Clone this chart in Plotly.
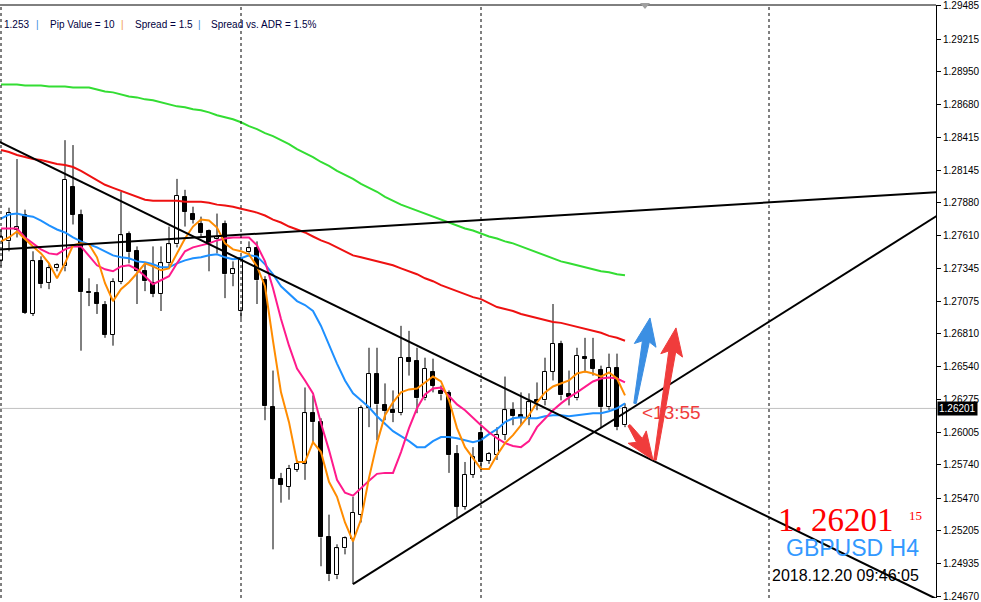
import plotly.graph_objects as go

# ---------------- data (GBPUSD H4) ----------------
opens = [1.27401, 1.27564, 1.27661, 1.27783, 1.26972, 1.27401, 1.27223, 1.27344, 1.27360, 1.28009,
         1.27783, 1.27150, 1.27142, 1.27045, 1.26802, 1.27231, 1.27621, 1.27483, 1.27320, 1.27223,
         1.27134, 1.27385, 1.27540, 1.27928, 1.27791, 1.27710, 1.27645, 1.27580, 1.27702, 1.27296,
         1.26996, 1.27475, 1.27507, 1.27247, 1.26210, 1.25626, 1.25561, 1.25699, 1.25748, 1.26162,
         1.26089, 1.25148, 1.24840, 1.25059, 1.25132, 1.25334, 1.26202, 1.26486, 1.26226, 1.26186,
         1.26162, 1.26615, 1.26591, 1.26283, 1.26502, 1.26340, 1.26324, 1.25829, 1.25399, 1.25658,
         1.25999, 1.25772, 1.25820, 1.25983, 1.26186, 1.26145, 1.26121, 1.26267, 1.26267, 1.26502,
         1.26729, 1.26315, 1.26283, 1.26623, 1.26599, 1.26518, 1.26210, 1.26534, 1.26064]
highs = [1.27661, 1.27839, 1.28236, 1.27823, 1.27483, 1.27442, 1.27377, 1.27385, 1.28390, 1.28350,
         1.27823, 1.27263, 1.27215, 1.27077, 1.27263, 1.27969, 1.27645, 1.27523, 1.27385, 1.27523,
         1.27523, 1.27685, 1.28074, 1.27985, 1.27847, 1.27766, 1.27661, 1.27791, 1.27734, 1.27401,
         1.27442, 1.27564, 1.27564, 1.27280, 1.26510, 1.25675, 1.25740, 1.25780, 1.26372, 1.26307,
         1.26121, 1.25334, 1.25092, 1.25156, 1.25480, 1.26226, 1.26696, 1.26696, 1.26405, 1.26348,
         1.26875, 1.26834, 1.26696, 1.26615, 1.26607, 1.26388, 1.26348, 1.25902, 1.25764, 1.25885,
         1.26064, 1.25845, 1.26048, 1.26461, 1.26251, 1.26332, 1.26324, 1.26413, 1.26615, 1.27053,
         1.26753, 1.26510, 1.26696, 1.26777, 1.26777, 1.26550, 1.26648, 1.26648, 1.26242]
lows = [1.27360, 1.27483, 1.27596, 1.26972, 1.26955, 1.27182, 1.27174, 1.27320, 1.27320, 1.27702,
        1.26672, 1.27036, 1.26972, 1.26777, 1.26713, 1.27215, 1.27385, 1.27053, 1.27158, 1.27109,
        1.26996, 1.27352, 1.27515, 1.27685, 1.27710, 1.27596, 1.27320, 1.27466, 1.27101, 1.27198,
        1.26931, 1.27442, 1.27053, 1.26105, 1.25051, 1.25432, 1.25456, 1.25683, 1.25618, 1.25918,
        1.24913, 1.24792, 1.24808, 1.25010, 1.24767, 1.25270, 1.26048, 1.25942, 1.26105, 1.26089,
        1.26145, 1.26469, 1.26162, 1.26267, 1.26332, 1.26267, 1.25675, 1.25310, 1.25375, 1.25634,
        1.25715, 1.25748, 1.25780, 1.25942, 1.26064, 1.26064, 1.26064, 1.26186, 1.26226, 1.26429,
        1.26267, 1.26226, 1.26267, 1.26494, 1.26469, 1.26048, 1.26186, 1.26023, 1.26048]
closes = [1.27596, 1.27799, 1.27685, 1.26980, 1.27401, 1.27215, 1.27344, 1.27369, 1.28066, 1.27783,
          1.27150, 1.27142, 1.27053, 1.26802, 1.27231, 1.27613, 1.27475, 1.27320, 1.27239, 1.27134,
          1.27385, 1.27540, 1.27937, 1.27807, 1.27742, 1.27629, 1.27548, 1.27596, 1.27296, 1.27336,
          1.27426, 1.27507, 1.27247, 1.26218, 1.25626, 1.25577, 1.25707, 1.25748, 1.26162, 1.26089,
          1.25148, 1.24848, 1.25059, 1.25140, 1.25351, 1.26202, 1.26486, 1.26234, 1.26178, 1.26162,
          1.26615, 1.26583, 1.26283, 1.26526, 1.26388, 1.26315, 1.25820, 1.25399, 1.25658, 1.25804,
          1.25764, 1.25829, 1.25983, 1.26186, 1.26137, 1.26121, 1.26251, 1.26251, 1.26502, 1.26729,
          1.26307, 1.26291, 1.26632, 1.26607, 1.26526, 1.26210, 1.26534, 1.26048, 1.26201]

ma_orange = [1.27564, 1.27596, 1.27645, 1.27580, 1.27523, 1.27466, 1.27385, 1.27263, 1.27385, 1.27532,
             1.27548, 1.27540, 1.27434, 1.27223, 1.27077, 1.27174, 1.27231, 1.27304, 1.27385, 1.27360,
             1.27328, 1.27344, 1.27466, 1.27588, 1.27685, 1.27742, 1.27734, 1.27677, 1.27548, 1.27499,
             1.27483, 1.27458, 1.27360, 1.27198, 1.26753, 1.26332, 1.26089, 1.25764, 1.25764, 1.25926,
             1.25845, 1.25602, 1.25480, 1.25270, 1.25116, 1.25294, 1.25634, 1.25918, 1.26145, 1.26251,
             1.26332, 1.26356, 1.26364, 1.26413, 1.26461, 1.26421, 1.26267, 1.26040, 1.25885, 1.25796,
             1.25707, 1.25707, 1.25820, 1.25918, 1.25983, 1.26064, 1.26145, 1.26251, 1.26332, 1.26380,
             1.26405, 1.26429, 1.26486, 1.26502, 1.26486, 1.26461, 1.26494, 1.26445, 1.26307]
ma_pink = [1.27669, 1.27669, 1.27669, 1.27596, 1.27548, 1.27499, 1.27466, 1.27458, 1.27499, 1.27523,
           1.27523, 1.27450, 1.27369, 1.27336, 1.27320, 1.27360, 1.27369, 1.27336, 1.27280, 1.27215,
           1.27247, 1.27280, 1.27385, 1.27483, 1.27515, 1.27532, 1.27548, 1.27572, 1.27588, 1.27596,
           1.27596, 1.27596, 1.27532, 1.27401, 1.27182, 1.26931, 1.26713, 1.26526, 1.26429, 1.26324,
           1.26080, 1.25861, 1.25618, 1.25513, 1.25489, 1.25553, 1.25610, 1.25667, 1.25675, 1.25675,
           1.25845, 1.26040, 1.26202, 1.26315, 1.26364, 1.26372, 1.26299, 1.26234, 1.26186, 1.26121,
           1.26064, 1.26007, 1.25958, 1.25918, 1.25894, 1.25885, 1.25934, 1.26048, 1.26121, 1.26186,
           1.26242, 1.26291, 1.26332, 1.26380, 1.26421, 1.26445, 1.26453, 1.26445, 1.26413]
ma_blue = [1.27750, 1.27783, 1.27791, 1.27775, 1.27766, 1.27734, 1.27694, 1.27661, 1.27637, 1.27596,
           1.27564, 1.27540, 1.27515, 1.27483, 1.27450, 1.27434, 1.27426, 1.27401, 1.27393, 1.27377,
           1.27352, 1.27352, 1.27385, 1.27409, 1.27426, 1.27434, 1.27450, 1.27458, 1.27434, 1.27418,
           1.27426, 1.27450, 1.27442, 1.27377, 1.27296, 1.27198, 1.27134, 1.27077, 1.27045, 1.26996,
           1.26874, 1.26713, 1.26567, 1.26429, 1.26324, 1.26267, 1.26210, 1.26137, 1.26072, 1.26015,
           1.25975, 1.25934, 1.25885, 1.25885, 1.25934, 1.25967, 1.25967, 1.25958, 1.25942, 1.25926,
           1.25942, 1.25991, 1.26032, 1.26089, 1.26121, 1.26129, 1.26121, 1.26121, 1.26137, 1.26145,
           1.26145, 1.26137, 1.26145, 1.26153, 1.26162, 1.26162, 1.26178, 1.26202, 1.26242]
ma_red = [1.28309, 1.28293, 1.28269, 1.28252, 1.28236, 1.28228, 1.28212, 1.28196, 1.28188, 1.28171,
          1.28139, 1.28099, 1.28066, 1.28026, 1.28001, 1.27977, 1.27953, 1.27928, 1.27904, 1.27896,
          1.27896, 1.27896, 1.27896, 1.27888, 1.27888, 1.27888, 1.27880, 1.27864, 1.27856, 1.27847,
          1.27831, 1.27815, 1.27799, 1.27775, 1.27742, 1.27718, 1.27685, 1.27661, 1.27637, 1.27604,
          1.27572, 1.27548, 1.27515, 1.27483, 1.27450, 1.27434, 1.27418, 1.27401, 1.27385, 1.27369,
          1.27344, 1.27320, 1.27296, 1.27263, 1.27239, 1.27207, 1.27182, 1.27158, 1.27134, 1.27109,
          1.27093, 1.27061, 1.27028, 1.27012, 1.26996, 1.26972, 1.26955, 1.26939, 1.26923, 1.26907,
          1.26899, 1.26883, 1.26866, 1.26850, 1.26834, 1.26818, 1.26793, 1.26777, 1.26753]
ma_green = [1.28844, 1.28844, 1.28844, 1.28836, 1.28836, 1.28836, 1.28828, 1.28828, 1.28828, 1.28820,
            1.28820, 1.28820, 1.28804, 1.28788, 1.28780, 1.28763, 1.28747, 1.28739, 1.28723, 1.28715,
            1.28698, 1.28682, 1.28666, 1.28658, 1.28642, 1.28634, 1.28617, 1.28593, 1.28577, 1.28561,
            1.28536, 1.28504, 1.28480, 1.28447, 1.28423, 1.28390, 1.28358, 1.28317, 1.28285, 1.28252,
            1.28212, 1.28180, 1.28139, 1.28107, 1.28074, 1.28034, 1.28001, 1.27969, 1.27928, 1.27896,
            1.27864, 1.27839, 1.27815, 1.27791, 1.27766, 1.27742, 1.27718, 1.27694, 1.27669, 1.27653,
            1.27629, 1.27604, 1.27588, 1.27564, 1.27548, 1.27523, 1.27499, 1.27475, 1.27450, 1.27426,
            1.27401, 1.27385, 1.27369, 1.27352, 1.27336, 1.27320, 1.27312, 1.27296, 1.27288]

bar_index = list(range(len(opens)))

price_ticks = [1.29485, 1.29215, 1.28950, 1.28680, 1.28415, 1.28145, 1.27880, 1.27610, 1.27345,
               1.27075, 1.26810, 1.26540, 1.26275, 1.26005, 1.25740, 1.25470, 1.25205, 1.24935, 1.24670]
current_price = 1.26201
separator_bars = [0, 30, 60, 96]

# trend lines: two anchor points (bar index, price) each
trend_desc = [(0, 1.28370), (78, 1.25886)]
trend_flat = [(0, 1.27498), (78, 1.27810)]
trend_up = [(44, 1.24767), (78, 1.26167)]

# arrow objects: (tail), (tip) as (bar index, price)
arrow_blue = [(79.25, 1.26242), (81.125, 1.26939)]
arrow_red_down = [(78.5, 1.26064), (81.5, 1.25780)]
arrow_red_up = [(81.75, 1.25780), (84.375, 1.26858)]

# ---------------- axes geometry ----------------
W, H = 981, 602
ML, MR, MT, MB = 0, 45, 2, 3
PW, PH = W - ML - MR, H - MT - MB
X_RANGE = [-0.125, -0.125 + PW / 8.0]
Y_RANGE = [1.24654, 1.29493]


def to_px(xv, yv):
    px = (xv - X_RANGE[0]) / (X_RANGE[1] - X_RANGE[0]) * PW
    py = (Y_RANGE[1] - yv) / (Y_RANGE[1] - Y_RANGE[0]) * PH
    return px, py


def to_data(px, py):
    xv = X_RANGE[0] + px / PW * (X_RANGE[1] - X_RANGE[0])
    yv = Y_RANGE[1] - py / PH * (Y_RANGE[1] - Y_RANGE[0])
    return xv, yv


def paper(px, py):
    # absolute figure pixels -> paper coords
    return (px - ML) / PW, (H - MB - py) / PH


fig = go.Figure()

# bodies
bull = [i for i in bar_index if closes[i] >= opens[i]]
bear = [i for i in bar_index if closes[i] < opens[i]]
for group, fill in ((bull, "white"), (bear, "black")):
    fig.add_trace(go.Bar(
        x=group,
        base=[min(opens[i], closes[i]) for i in group],
        y=[max(abs(closes[i] - opens[i]), 0.00003) for i in group],
        width=0.6,
        marker=dict(color=fill, line=dict(color="black", width=1)),
        hoverinfo="skip",
    ))

# wicks
wx, wy = [], []
for i in bar_index:
    top = max(opens[i], closes[i])
    bot = min(opens[i], closes[i])
    wx += [i, i, None, i, i, None]
    wy += [highs[i], top, None, bot, lows[i], None]
fig.add_trace(go.Scatter(x=wx, y=wy, mode="lines", line=dict(color="black", width=1),
                         hoverinfo="skip"))

# moving averages
for vals, col in ((ma_green, "#33dd33"), (ma_red, "#ee1111"), (ma_blue, "#1e90ff"),
                  (ma_pink, "#ff1a8c"), (ma_orange, "#ff8c00")):
    fig.add_trace(go.Scatter(x=bar_index, y=vals, mode="lines",
                             line=dict(color=col, width=2), hoverinfo="skip"))


# trend lines (rays)
def ray(anchors, start, end):
    (x0, y0), (x1, y1) = anchors
    k = (y1 - y0) / (x1 - x0)
    return [start, end], [y0 + k * (start - x0), y0 + k * (end - x0)]


for anchors, start in ((trend_desc, X_RANGE[0] - 1), (trend_flat, X_RANGE[0] - 1),
                       (trend_up, trend_up[0][0])):
    xs, ys = ray(anchors, start, X_RANGE[1] + 2)
    fig.add_trace(go.Scatter(x=xs, y=ys, mode="lines", line=dict(color="black", width=2),
                             hoverinfo="skip", cliponaxis=True))

shapes = []
# period separators
for b in separator_bars:
    shapes.append(dict(type="line", xref="x", yref="paper", x0=b, x1=b, y0=0, y1=1,
                       line=dict(color="black", width=1, dash="3px,3px")))
# current price line
shapes.append(dict(type="line", xref="paper", yref="y", x0=0, x1=1, y0=current_price,
                   y1=current_price, line=dict(color="#c0c0c0", width=1), layer="below"))
# top border
shapes.append(dict(type="line", xref="paper", yref="paper", x0=0, x1=1, y0=1, y1=1,
                   line=dict(color="black", width=1)))


# arrows (built in pixel space from the data anchors)
def arrow_path(anchor, head_len=24, head_w=22, shaft_tail=2.5, shaft_head=7, barb=4):
    (tx, ty), (hx, hy) = anchor
    ax, ay = to_px(tx, ty)
    bx, by = to_px(hx, hy)
    dx, dy = bx - ax, by - ay
    L = (dx * dx + dy * dy) ** 0.5
    ux, uy = dx / L, dy / L
    nx, ny = -uy, ux
    base = L - head_len
    pts = []
    def P(s, t):
        return (ax + ux * s + nx * t, ay + uy * s + ny * t)
    pts.append(P(0, -shaft_tail / 2))
    pts.append(P(base, -shaft_head / 2))
    pts.append(P(base - barb, -head_w / 2))
    pts.append(P(L, 0))
    pts.append(P(base - barb, head_w / 2))
    pts.append(P(base, shaft_head / 2))
    pts.append(P(0, shaft_tail / 2))
    d = ""
    for k, (px, py) in enumerate(pts):
        xv, yv = to_data(px, py)
        d += ("M" if k == 0 else "L") + f"{xv:.5f},{yv:.6f} "
    return d + "Z"


for anc, col in ((arrow_blue, "#3b8fe3"), (arrow_red_down, "#f03c3c"), (arrow_red_up, "#f03c3c")):
    shapes.append(dict(type="path", xref="x", yref="y", path=arrow_path(anc),
                       fillcolor=col, line=dict(color=col, width=1)))

# small chart-shift marker at top
tri = [paper(640, 0), paper(650, 0), paper(645, 6)]
shapes.append(dict(type="path", xref="paper", yref="paper",
                   path=f"M{tri[0][0]},{tri[0][1]} L{tri[1][0]},{tri[1][1]} L{tri[2][0]},{tri[2][1]} Z",
                   fillcolor="#a0a0a0", line=dict(width=0)))

ann = []


def text(px, py, s, size, color, family="Liberation Sans", xanchor="left", yanchor="middle"):
    x, y = paper(px, py)
    ann.append(dict(xref="paper", yref="paper", x=x, y=y, text=s, showarrow=False,
                    xanchor=xanchor, yanchor=yanchor,
                    font=dict(family=family, size=size, color=color)))


# info line
text(2, 22, "1.253", 10, "#000040")
text(34, 22, "|", 10, "#3c8fe0")
text(48, 22, "Pip Value = 10", 10, "#000040")
text(119, 22, "|", 10, "#f0a040")
text(133, 22, "Spread = 1.5", 10, "#000040")
text(196, 22, "|", 10, "#3c8fe0")
text(209, 22, "Spread vs. ADR = 1.5%", 10, "#000040")

# countdown
text(640, 412, "&lt;13:55", 19, "#f03c3c")

# price / symbol / time block
text(896, 520, "1. 26201", 33, "#ff0000", family="Liberation Serif", xanchor="right")
text(907, 516, "15", 13, "#ff0000", family="Liberation Serif")
text(921, 549, "GBPUSD H4", 23, "#3399ff", xanchor="right")
text(921, 576, "2018.12.20 09:46:05", 16, "#000000", xanchor="right")

# current price tag on the axis
ann.append(dict(xref="paper", yref="y", x=1, y=current_price, xanchor="left", yanchor="middle",
                xshift=1, text="1.26201", showarrow=False, bgcolor="black", borderpad=1,
                font=dict(family="Liberation Sans", size=10, color="white")))

fig.update_layout(
    width=W, height=H,
    margin=dict(l=ML, r=MR, t=MT, b=MB),
    paper_bgcolor="white", plot_bgcolor="white",
    showlegend=False, barmode="overlay", bargap=0,
    shapes=shapes, annotations=ann,
    xaxis=dict(range=X_RANGE, showticklabels=False, showgrid=False, zeroline=False,
               ticks="", showline=False, fixedrange=True),
    yaxis=dict(range=Y_RANGE, side="right", tickvals=price_ticks,
               ticktext=[f"{v:.5f}" for v in price_ticks], ticks="outside", ticklen=4,
               tickcolor="black", showline=True, linecolor="black", linewidth=1,
               showgrid=False, zeroline=False, ticklabeloverflow="allow",
               tickfont=dict(family="Liberation Sans", size=10, color="black")),
)

fig.write_html("out.html", config={"displayModeBar": False},
               post_script="document.body.style.margin='0px';document.body.style.overflow='hidden';")
